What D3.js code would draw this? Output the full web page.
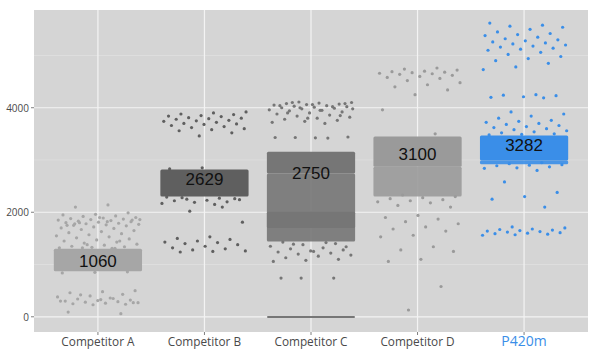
<!DOCTYPE html>
<html>
<head>
<meta charset="utf-8">
<script src="https://cdn.jsdelivr.net/npm/d3@7"></script>
<style>
  body { margin: 0; background: #fff; }
  .tick-label { font-family: "Open Sans", sans-serif; fill: #4a4a4a; }
  .value-label { font-family: "Liberation Sans", Arial, sans-serif; fill: #111; }
</style>
</head>
<body>
<div id="chart"></div>
<script>
// categories and their headline values
var categories = ["Competitor A", "Competitor B", "Competitor C", "Competitor D", "P420m"];
var labelValues = [1060, 2629, 2750, 3100, 3282];
var yTicks = [0, 2000, 4000];
var yMinorTicks = [1000, 3000, 5000];

// dense clusters: [category index, low, high]
var denseBands = [
  [0, 870, 1300],
  [1, 2300, 2820],
  [2, 2740, 3160],
  [2, 1700, 2010],
  [2, -15, 15],
  [3, 2870, 3450],
  [4, 2990, 3470]
];
// looser clusters (points with small gaps between them)
var looseBands = [
  [2, 1440, 2740],
  [3, 2300, 2870],
  [4, 2920, 2990]
];

// scattered points, one list per category
var pointsA = [2140, 2100, 1990, 1960, 1950, 1930, 1920, 1900, 1890, 1880, 1870, 1860, 1850, 1840, 1830,
  1820, 1810, 1800, 1790, 1780, 1770, 1760, 1750, 1740, 1720, 1700, 1690, 1670, 1650, 1630, 1610, 1590,
  1570, 1550, 1530, 1510, 1490, 1470, 1450, 1430, 1410, 1390, 1370, 1350, 1340, 1330, 1320, 1310, 1800,
  1850, 1900, 1750, 1450, 1380, 1860, 1820, 1780, 860, 850, 840, 1310, 1320,
  500, 480, 460, 430, 400, 380, 360, 340, 320, 310, 300, 290, 280, 270, 260, 250, 240, 230, 300, 350,
  420, 270, 330, 90, 60];
var pointsB = [3920, 3900, 3880, 3870, 3850, 3840, 3830, 3810, 3800, 3790, 3780, 3760, 3750, 3740, 3720,
  3700, 3690, 3680, 3660, 3640, 3620, 3600, 3580, 3560, 3520, 3460,
  2290, 2270, 2250, 2240, 2230, 2220, 2200, 2190, 2170, 2150, 2280, 2260, 2850, 2830,
  2100, 2020, 1810,
  1530, 1500, 1480, 1450, 1430, 1420, 1400, 1380, 1350, 1320, 1300, 1280, 1260, 1250, 1240];
var pointsC = [4110, 4100, 4090, 4080, 4070, 4060, 4050, 4040, 4030, 4020, 4010, 4000, 3990, 3980, 3960,
  3950, 3940, 3920, 3900, 3880, 3860, 3840, 3820, 3800, 3780, 3760, 3740, 3720, 3700, 4100, 4080, 4060,
  4040, 4020, 4000, 3980, 3950, 3900, 3850, 3800,
  3430, 3420, 3430, 3440, 3425,
  1430, 1400, 1380, 1350, 1320, 1300, 1280, 1260, 1240, 1220, 1200, 1180, 1160, 1130, 1100, 1080, 1060,
  1420, 1390, 1340, 1250,
  740, 740, 740];
var pointsD = [4760, 4740, 4720, 4700, 4690, 4680, 4670, 4660, 4650, 4640, 4620, 4600, 4580, 4560, 4520,
  4480, 4440, 4400, 4340, 4250, 3960, 3500,
  2330, 2300, 2280, 2260, 2240, 2220, 2200, 2180, 2130, 2100,
  1940, 1900, 1870, 1820, 1780, 1720, 1680, 1640, 1560, 1530, 1340, 1280, 1250, 1100, 1060, 580, 130];
var pointsP = [5620, 5580, 5560, 5540, 5500, 5450, 5420, 5400, 5380, 5350, 5320, 5300, 5280, 5260, 5240,
  5220, 5200, 5180, 5160, 5140, 5120, 5100, 5060, 5020, 4980, 4940, 4900, 4850, 4780, 4730,
  4250, 4240, 4230, 4210, 4200, 4190,
  3920, 3880, 3840, 3800, 3760, 3740, 3720, 3700, 3680, 3660, 3640, 3620, 3600, 3580, 3560, 3540, 3520,
  3500, 3490, 3480,
  2950, 2930, 2910, 2900, 2890, 2870, 2850, 2840, 2800, 2580, 2380, 2300, 2250, 2100,
  1720, 1700, 1680, 1670, 1660, 1650, 1640, 1630, 1620, 1610, 1600, 1590, 1580, 1570, 1560];
var scatter = [pointsA, pointsB, pointsC, pointsD, pointsP];

var colors = ["#a6a6a6", "#5f5f5f", "#767676", "#9a9a9a", "#3a8ee8"];

var width = 600, height = 353;
var margin = { top: 10, right: 12, bottom: 21, left: 34 };

var svg = d3.select("#chart").append("svg")
    .attr("width", width)
    .attr("height", height);

var x = d3.scalePoint()
    .domain(d3.range(categories.length))
    .range([margin.left, width - margin.right])
    .padding(0.6);
var step = x.step();
var jitter = 0.4 * step;

var y = d3.scaleLinear()
    .domain([-291, 5870])
    .range([height - margin.bottom, margin.top]);

// panel
svg.append("rect")
    .attr("x", margin.left)
    .attr("y", margin.top)
    .attr("width", width - margin.left - margin.right)
    .attr("height", height - margin.top - margin.bottom)
    .attr("fill", "#d5d5d5");

var grid = svg.append("g");
grid.selectAll(".minor").data(yMinorTicks).enter().append("line")
    .attr("x1", margin.left).attr("x2", width - margin.right)
    .attr("y1", function(d) { return y(d); })
    .attr("y2", function(d) { return y(d); })
    .attr("stroke", "#e0e0e0").attr("stroke-width", 0.8);
grid.selectAll(".major").data(yTicks).enter().append("line")
    .attr("x1", margin.left).attr("x2", width - margin.right)
    .attr("y1", function(d) { return y(d); })
    .attr("y2", function(d) { return y(d); })
    .attr("stroke", "#f3f3f3").attr("stroke-width", 1.2);
grid.selectAll(".vert").data(d3.range(categories.length)).enter().append("line")
    .attr("x1", function(d) { return x(d); })
    .attr("x2", function(d) { return x(d); })
    .attr("y1", margin.top).attr("y2", height - margin.bottom)
    .attr("stroke", "#f3f3f3").attr("stroke-width", 1.2);

// clusters
var marks = svg.append("g");
marks.selectAll(".loose").data(looseBands).enter().append("rect")
    .attr("x", function(d) { return x(d[0]) - jitter - 1.5; })
    .attr("width", 2 * jitter + 3)
    .attr("y", function(d) { return y(d[2]); })
    .attr("height", function(d) { return y(d[1]) - y(d[2]); })
    .attr("rx", 1.5)
    .attr("fill", function(d) { return colors[d[0]]; })
    .attr("opacity", 0.9);
marks.selectAll(".dense").data(denseBands).enter().append("rect")
    .attr("x", function(d) { return x(d[0]) - jitter - 1.5; })
    .attr("width", 2 * jitter + 3)
    .attr("y", function(d) { return y(d[2]); })
    .attr("height", function(d) { return Math.max(2, y(d[1]) - y(d[2])); })
    .attr("rx", 1.5)
    .attr("fill", function(d) { return colors[d[0]]; });

// scattered points, spread across the jitter width
var flat = [];
scatter.forEach(function(list, c) {
  list.forEach(function(v, i) {
    var u = ((i + 1) * 0.6180339887 + c * 0.37) % 1;
    flat.push({ cat: c, value: v, u: u });
  });
});
marks.selectAll(".pt").data(flat).enter().append("circle")
    .attr("cx", function(d) { return x(d.cat) + (d.u * 2 - 1) * jitter; })
    .attr("cy", function(d) { return y(d.value); })
    .attr("r", 1.6)
    .attr("fill", function(d) { return colors[d.cat]; });

// value labels
svg.selectAll(".value-label").data(labelValues).enter().append("text")
    .attr("class", "value-label")
    .attr("x", function(d, i) { return x(i); })
    .attr("y", function(d) { return y(d); })
    .attr("text-anchor", "middle")
    .attr("dominant-baseline", "central")
    .attr("font-size", 17)
    .text(function(d) { return d; });

// axes
var yAxis = svg.append("g");
yAxis.selectAll("line").data(yTicks).enter().append("line")
    .attr("x1", margin.left - 3).attr("x2", margin.left)
    .attr("y1", function(d) { return y(d); })
    .attr("y2", function(d) { return y(d); })
    .attr("stroke", "#7f7f7f");
yAxis.selectAll("text").data(yTicks).enter().append("text")
    .attr("class", "tick-label")
    .attr("x", margin.left - 5)
    .attr("y", function(d) { return y(d); })
    .attr("text-anchor", "end")
    .attr("dominant-baseline", "central")
    .attr("font-size", 10)
    .text(function(d) { return d; });

var xAxis = svg.append("g");
xAxis.selectAll("line").data(d3.range(categories.length)).enter().append("line")
    .attr("x1", function(d) { return x(d); })
    .attr("x2", function(d) { return x(d); })
    .attr("y1", height - margin.bottom)
    .attr("y2", height - margin.bottom + 3)
    .attr("stroke", "#7f7f7f");
xAxis.selectAll("text").data(categories).enter().append("text")
    .attr("class", "tick-label")
    .attr("x", function(d, i) { return x(i); })
    .attr("y", 346)
    .attr("text-anchor", "middle")
    .attr("font-size", function(d, i) { return i === 4 ? 14 : 11.8; })
    .style("fill", function(d, i) { return i === 4 ? "#3a8ee8" : "#4a4a4a"; })
    .text(function(d) { return d; });
</script>
</body>
</html>
